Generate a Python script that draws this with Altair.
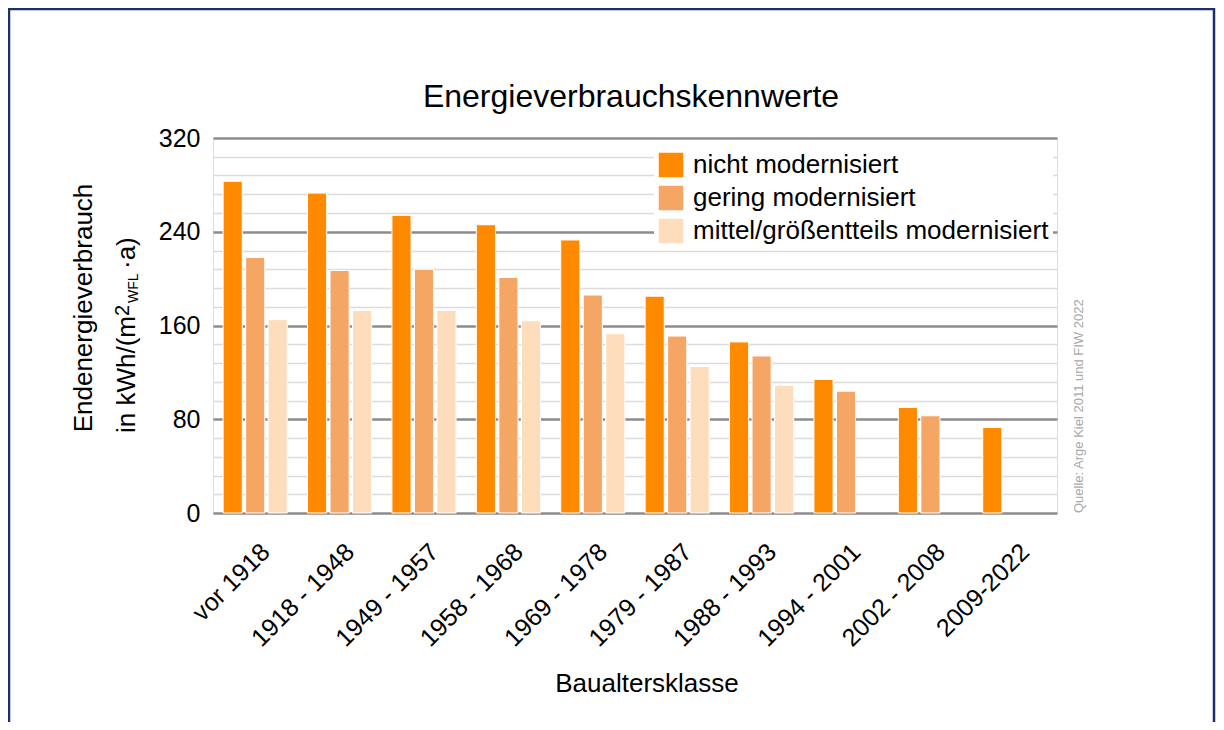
import altair as alt
import pandas as pd

# ---- data ----
categories = ["vor 1918", "1918 - 1948", "1949 - 1957", "1958 - 1968", "1969 - 1978",
              "1979 - 1987", "1988 - 1993", "1994 - 2001", "2002 - 2008", "2009-2022"]
series = ["nicht modernisiert", "gering modernisiert", "mittel/größentteils modernisiert"]
nicht = [283, 273, 254, 246, 233, 185, 146, 114, 90, 73]
gering = [218, 207, 208, 201, 186, 151, 134, 104, 83, None]
mittel = [165, 173, 173, 164, 153, 125, 109, None, None, None]
colors = ["#FF8A00", "#F5A664", "#FEDDBC"]
y_ticks = list(range(0, 321, 16))

rows = []
for name, vals in zip(series, [nicht, gering, mittel]):
    for cat, v in zip(categories, vals):
        if v is not None:
            rows.append({"Baualtersklasse": cat, "Stufe": name, "Wert": v})
df = pd.DataFrame(rows)

FONT = "Liberation Sans"
W, H = 844, 375

bars = alt.Chart(df).mark_bar(stroke="white", strokeWidth=1).encode(
    x=alt.X("Baualtersklasse:N", sort=categories,
            scale=alt.Scale(paddingInner=0.24, paddingOuter=0.12),
            axis=alt.Axis(title=None, labelAngle=-45, labelAlign="right", labelBaseline="top",
                          labelFontSize=25, labelFont=FONT, labelColor="black",
                          labelPadding=26, labelOffset=2, ticks=False, domain=False,
                          grid=False, labelLimit=400)),
    xOffset=alt.XOffset("Stufe:N", sort=series, scale=alt.Scale(paddingInner=0.15)),
    y=alt.Y("Wert:Q", scale=alt.Scale(domain=[0, 320], nice=False),
            axis=alt.Axis(title=None, values=y_ticks,
                          labelExpr="datum.value % 80 === 0 ? datum.label : ''",
                          labelFontSize=25, labelFont=FONT, labelColor="black",
                          labelPadding=13, ticks=False, domain=False,
                          gridColor={"condition": {"test": "datum.value % 80 === 0", "value": "#8c8c8c"},
                                     "value": "#dcdcdc"},
                          gridWidth={"condition": {"test": "datum.value % 80 === 0", "value": 2.5},
                                     "value": 1.5})),
    color=alt.Color("Stufe:N", sort=series,
                    scale=alt.Scale(domain=series, range=colors),
                    legend=alt.Legend(title=None, orient="none", legendX=441, legendY=10,
                                      fillColor="white", padding=4, symbolType="square",
                                      symbolSize=600, symbolStrokeWidth=0, symbolOpacity=1,
                                      labelFontSize=26, labelFont=FONT, labelColor="black",
                                      labelOffset=9, rowPadding=7, labelLimit=600)),
)

one = alt.Data(values=[{"k": 1}])

frame = alt.Chart(one).mark_rect(fill=None, stroke="#1c2f6b", strokeWidth=2.5).encode(
    x=alt.value(-204), x2=alt.value(1001), y=alt.value(-129), y2=alt.value(620))

def txt(text, x, y, size, angle=0, align="left", color="black"):
    kw = dict(text=text, fontSize=size, font=FONT, color=color, align=align, baseline="alphabetic")
    if angle:
        kw["angle"] = angle
    return alt.Chart(one).mark_text(**kw).encode(x=alt.value(x), y=alt.value(y))

title = txt("Energieverbrauchskennwerte", 418, -31, 32, align="center")
ytitle1 = txt("Endenergieverbrauch", -121, 170, 26, angle=270, align="center")
ytitle2a = txt("in kWh/(m", -78, 295, 26, angle=270)
ytitle2b = txt("2", -84, 178, 20, angle=270)
ytitle2c = txt("WFL", -75, 165, 14, angle=270)
ytitle2d = txt("·a)", -78, 131, 26, angle=270)
xtitle = txt("Baualtersklasse", 434, 554, 26, align="center")
source = txt("Quelle: Arge Kiel 2011 und FIW 2022", 870, 375, 13, angle=270, color="#a8a8a8")

chart = alt.layer(frame, bars, title, ytitle1, ytitle2a, ytitle2b, ytitle2c, ytitle2d,
                  xtitle, source).properties(
    width=W, height=H,
    autosize=alt.AutoSizeParams(type="none"),
    padding={"left": 205, "top": 130, "right": 159, "bottom": 209},
).configure_view(stroke=None).configure(background="white")

chart.save("out.html", embed_options={"renderer": "svg", "actions": False})
